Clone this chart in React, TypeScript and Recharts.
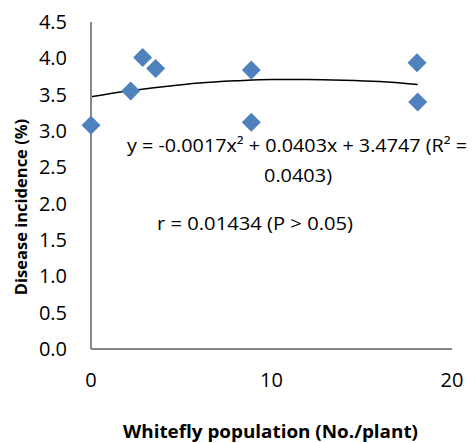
import { ComposedChart, Scatter, Line, XAxis, YAxis } from "recharts";

// observed points: whitefly population vs disease incidence
const populations = [0, 2.2, 2.86, 3.58, 8.88, 8.88, 18.06, 18.1];
const incidences = [3.08, 3.55, 4.01, 3.86, 3.84, 3.12, 3.94, 3.4];

// polynomial trendline
const trendX = [0, 2, 4, 6, 8, 10, 12, 14, 16, 18.1];
const trendY = [3.47, 3.55, 3.61, 3.66, 3.69, 3.71, 3.71, 3.7, 3.68, 3.64];

const xTicks = [0, 10, 20];
const yTicks = [0, 0.5, 1, 1.5, 2, 2.5, 3, 3.5, 4, 4.5];

const points = populations.map((x, i) => ({ x, y: incidences[i] }));
const trend = trendX.map((x, i) => ({ x, t: trendY[i] }));

const FONT = "'Open Sans', sans-serif";

const Diamond = (props: any) => {
    const { cx, cy } = props;
    const r = 9.5;
    return (
        <polygon
            points={`${cx},${cy - r} ${cx + r},${cy} ${cx},${cy + r} ${cx - r},${cy}`}
            fill="#4F81BD"
        />
    );
};

const App = () => {
    return (
        <div style={{ position: "absolute", left: 0, top: 0, width: 473, height: 443, background: "#fff" }}>
            <ComposedChart
                width={473}
                height={443}
                data={trend}
                margin={{ top: 22, right: 21, bottom: 0, left: 0 }}
                style={{ fontFamily: FONT }}
            >
                <XAxis
                    dataKey="x"
                    type="number"
                    domain={[0, 20]}
                    ticks={xTicks}
                    height={94}
                    tickLine={false}
                    tickSize={0}
                    tickMargin={24}
                    axisLine={{ stroke: "#868686", strokeWidth: 2 }}
                    tick={{ fill: "#000", fontSize: 20, fontFamily: FONT }}
                />
                <YAxis
                    type="number"
                    domain={[0, 4.5]}
                    ticks={yTicks}
                    width={91}
                    tickLine={false}
                    tickSize={0}
                    tickMargin={24}
                    tickFormatter={(v: number) => v.toFixed(1)}
                    axisLine={{ stroke: "#868686", strokeWidth: 2 }}
                    tick={{ fill: "#000", fontSize: 20, fontFamily: FONT }}
                />
                <Line
                    dataKey="t"
                    type="monotone"
                    stroke="#000"
                    strokeWidth={1.5}
                    dot={false}
                    activeDot={false}
                    isAnimationActive={false}
                />
                <Scatter data={points} dataKey="y" shape={<Diamond />} isAnimationActive={false} />

                {/* axis titles */}
                <text
                    x={123}
                    y={438}
                    textLength={295}
                    lengthAdjust="spacingAndGlyphs"
                    fontSize={17}
                    fontWeight="bold"
                    fontFamily={FONT}
                    fill="#000"
                >
                    Whitefly population (No./plant)
                </text>
                <text
                    x={0}
                    y={0}
                    transform="translate(27,207) rotate(-90)"
                    textAnchor="middle"
                    fontSize={16.5}
                    fontWeight="bold"
                    fontFamily={FONT}
                    fill="#000"
                >
                    Disease incidence (%)
                </text>

                {/* equation annotations */}
                <text x={127} y={152} textLength={340} lengthAdjust="spacingAndGlyphs" fontSize={18} fontFamily={FONT} fill="#000">
                    y = -0.0017x² + 0.0403x + 3.4747 (R² =
                </text>
                <text x={264} y={182} textLength={68} lengthAdjust="spacingAndGlyphs" fontSize={18} fontFamily={FONT} fill="#000">
                    0.0403)
                </text>
                <text x={157} y={230} textLength={196} lengthAdjust="spacingAndGlyphs" fontSize={18} fontFamily={FONT} fill="#000">
                    r = 0.01434 (P &gt; 0.05)
                </text>
            </ComposedChart>
        </div>
    );
};

export default App;
